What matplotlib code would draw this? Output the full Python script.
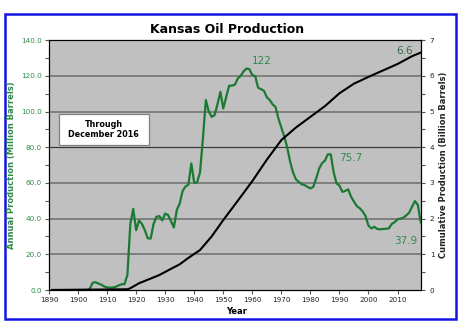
from matplotlib import pyplot as plt
from matplotlib.patches import Rectangle
from matplotlib.ticker import MultipleLocator, FormatStrFormatter

# annual production, million barrels (years as placed on the chart's axis)
years = list(range(1891, 2019))
production = (
    [0.0] * 13 +                                                    # 1891-1903
    [0.5, 4.0, 4.4, 3.6, 3.0, 2.0, 1.5, 1.3, 1.4, 1.8,              # 1904-1913
     2.6, 3.2, 3.3, 8.5, 37.0, 45.5, 33.5, 39.0, 37.0, 33.5,        # 1914-1923
     29.0, 28.8, 37.0, 41.0, 41.4, 39.0, 42.8, 42.0, 38.5, 35.0,    # 1924-1933
     44.8, 48.5, 55.5, 58.0, 59.0, 70.9, 60.0, 60.3, 66.0, 85.0,    # 1934-1943
     106.4, 100.0, 97.0, 98.0, 104.0, 111.0, 101.7, 108.0, 114.4, 114.5,  # 1944-1953
     115.0, 118.5, 120.0, 122.5, 124.1, 123.7, 120.4, 119.8, 113.3, 112.5,  # 1954-1963
     111.6, 108.0, 106.4, 104.0, 102.5, 96.0, 91.0, 86.0, 80.0, 72.0,   # 1964-1973
     66.0, 62.0, 60.6, 59.2, 58.8, 57.8, 56.9, 57.8, 62.5, 68.0,    # 1974-1983
     71.0, 72.5, 76.0, 76.0, 66.0, 59.7, 58.5, 55.0, 55.5, 56.4,    # 1984-1993
     52.3, 49.5, 47.0, 45.8, 44.0, 41.4, 36.0, 34.5, 35.4, 34.2,    # 1994-2003
     34.0, 34.2, 34.3, 34.5, 37.0, 38.0, 39.6, 40.0, 40.5, 41.8,    # 2004-2013
     43.3, 46.7, 49.8, 47.6, 37.9]                                  # 2014-2018
)

# cumulative production, billion barrels
cum_years = [1891, 1917, 1918, 1921, 1925, 1928, 1931, 1935, 1938, 1942,
             1946, 1950, 1955, 1960, 1965, 1970, 1975, 1980, 1985, 1990,
             1995, 2000, 2005, 2010, 2015, 2018]
cumulative = [0.0, 0.02, 0.05, 0.19, 0.32, 0.42, 0.55, 0.72, 0.9, 1.12,
              1.5, 1.96, 2.5, 3.05, 3.65, 4.2, 4.55, 4.85, 5.15, 5.51,
              5.78, 5.97, 6.15, 6.33, 6.55, 6.65]

GREEN = '#1b7a32'
LABEL_GREEN = '#2e8b4a'

fig = plt.figure(figsize=(4.73, 3.26), dpi=100)
fig.patches.append(Rectangle((0.0106, 0.0215), 0.9535, 0.9356,
                             transform=fig.transFigure, fill=False,
                             edgecolor='#1414e6', linewidth=1.8))

ax = fig.add_axes([0.1036, 0.1104, 0.7872, 0.7666])
ax.set_facecolor('#c0c0c0')
ax.set_xlim(1890, 2018.2)
ax.set_ylim(0, 140)
ax.xaxis.set_major_locator(MultipleLocator(10))
ax.yaxis.set_major_locator(MultipleLocator(20))
ax.yaxis.set_minor_locator(MultipleLocator(10))
ax.yaxis.set_major_formatter(FormatStrFormatter('%.1f'))
for v in range(20, 140, 20):
    ax.axhline(v, color='#3a3a3a' if v == 80 else '#7a7a7a',
               lw=0.9 if v == 80 else 1.3, zorder=1)
ax.tick_params(axis='y', colors='#555555', labelcolor=LABEL_GREEN,
               labelsize=5.2, length=3, width=0.8, which='major', pad=2)
ax.tick_params(axis='y', which='minor', colors='#555555', length=3, width=0.8)
ax.tick_params(axis='x', colors='#555555', labelcolor='#222222',
               labelsize=5.2, length=3, width=0.8, pad=2)
for s in ax.spines.values():
    s.set_color('#808080')
    s.set_linewidth(0.9)

ax.plot(years, production, color=GREEN, lw=1.6, zorder=3)

ax2 = ax.twinx()
ax2.set_ylim(0, 7)
ax2.yaxis.set_major_locator(MultipleLocator(1))
ax2.yaxis.set_minor_locator(MultipleLocator(0.5))
ax2.tick_params(axis='y', colors='#555555', labelcolor='#222222',
                labelsize=5.2, length=3, width=0.8, pad=3)
ax2.tick_params(axis='y', which='minor', colors='#555555', length=3, width=0.8)
ax2.plot(cum_years, cumulative, color='black', lw=1.5, zorder=3)

# value labels
ax.text(1963.3, 128.4, '122', color=LABEL_GREEN, fontsize=7.5,
        ha='center', va='center')
ax.text(1993.9, 73.9, '75.7', color=LABEL_GREEN, fontsize=7.5,
        ha='center', va='center')
ax.text(2012.8, 27.4, '37.9', color=LABEL_GREEN, fontsize=7.5,
        ha='center', va='center')
ax.text(2012.3, 134, '6.6', color='#3d6b4a', fontsize=7.5,
        ha='center', va='center')

# "Through December 2016" box
ax.add_patch(Rectangle((0.0267, 0.58), 0.2406, 0.124, transform=ax.transAxes,
                       facecolor='white', edgecolor='#808080', lw=0.9,
                       zorder=4))
ax.text(0.147, 0.642, 'Through\nDecember 2016', transform=ax.transAxes,
        ha='center', va='center', fontsize=5.8, fontweight='bold',
        linespacing=1.25, zorder=5)

fig.text(0.48, 0.908, 'Kansas Oil Production', ha='center', va='center',
         fontsize=9, fontweight='bold')
fig.text(0.025, 0.494, 'Annual Production (Million Barrels)', rotation=90,
         ha='center', va='center', fontsize=6, fontweight='bold',
         color=LABEL_GREEN)
fig.text(0.937, 0.494, 'Cumulative Production (Billion Barrels)', rotation=90,
         ha='center', va='center', fontsize=6, fontweight='bold',
         color='#222222')
fig.text(0.501, 0.043, 'Year', ha='center', va='center', fontsize=6,
         fontweight='bold')

fig.savefig('out.png', dpi=100)
